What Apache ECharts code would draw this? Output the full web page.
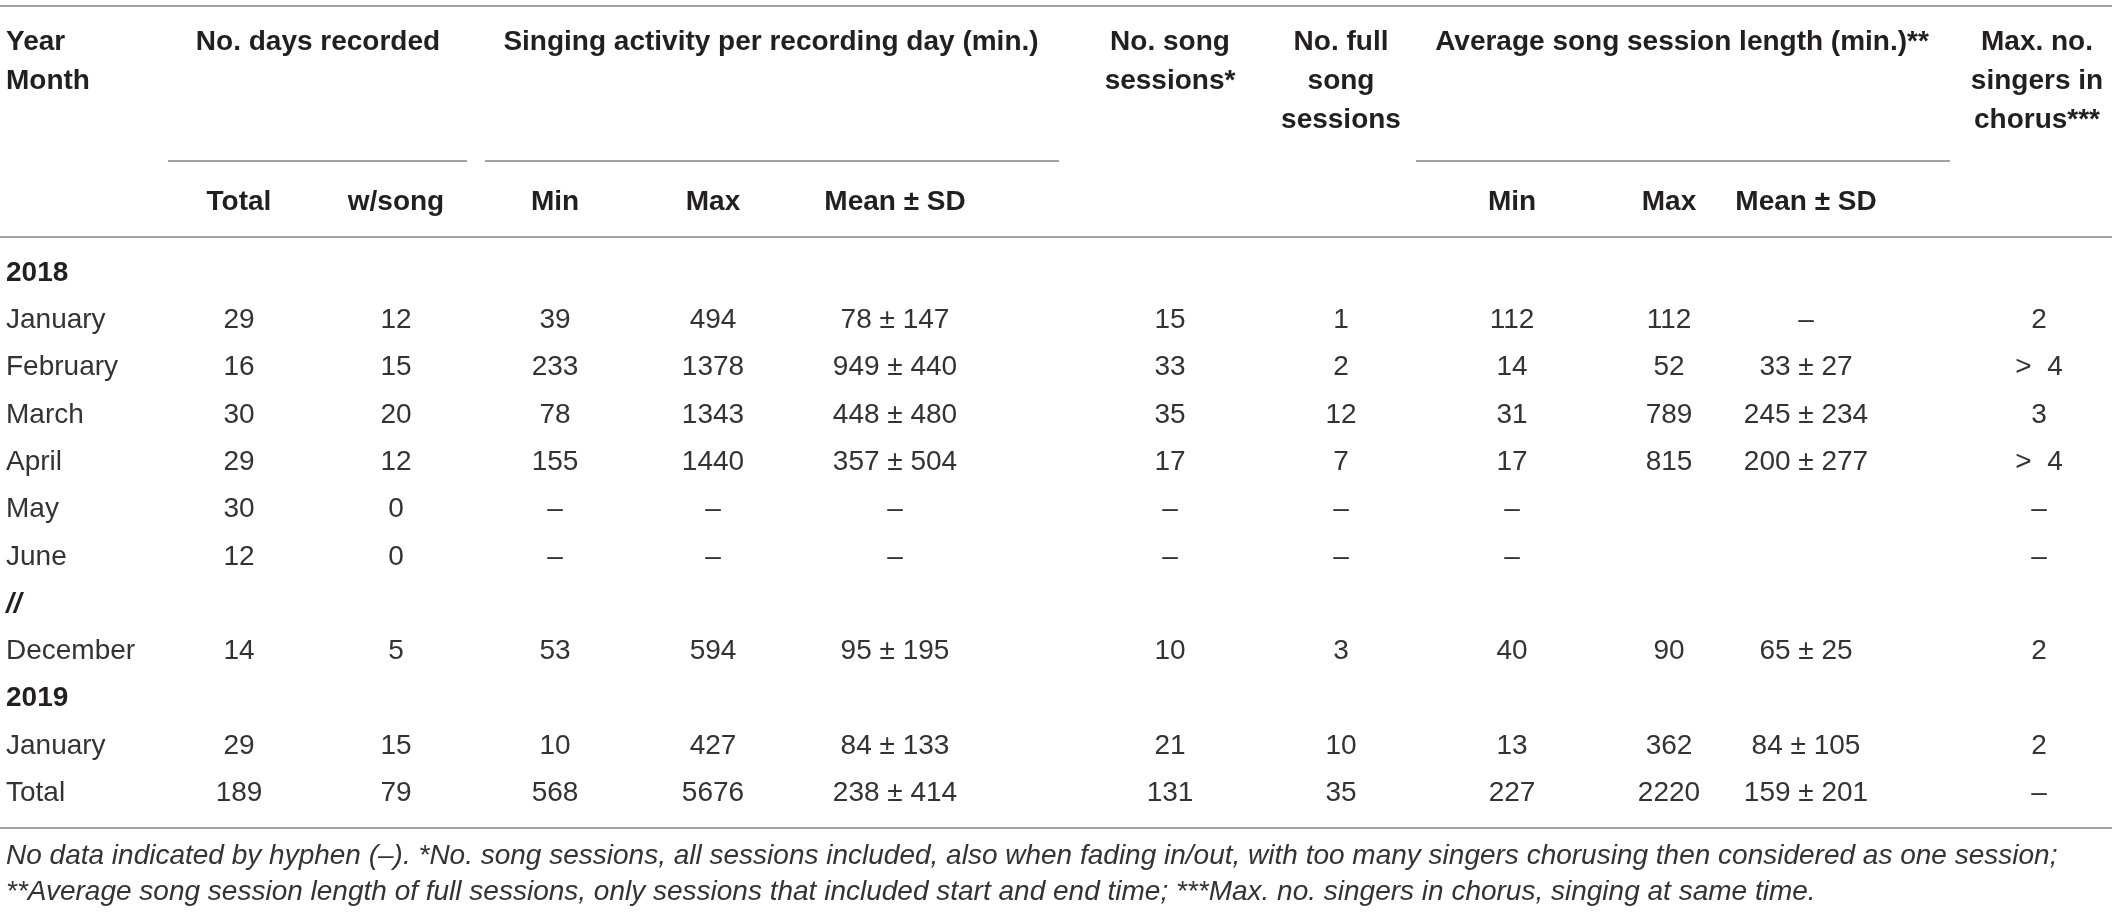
<!DOCTYPE html>
<html>
<head>
<meta charset="utf-8">
<title>Singing activity table</title>
<script src="https://cdn.jsdelivr.net/npm/echarts@6/dist/echarts.min.js"></script>
<style>
  html, body { margin: 0; padding: 0; background: #fff; }
  #main { width: 2118px; height: 915px; }
</style>
</head>
<body>
<div id="main"></div>
<script>
// table data, one array per column
const months = ['2018', 'January', 'February', 'March', 'April', 'May', 'June', '//', 'December', '2019', 'January', 'Total'];
const daysTotal = ['', '29', '16', '30', '29', '30', '12', '', '14', '', '29', '189'];
const daysWithSong = ['', '12', '15', '20', '12', '0', '0', '', '5', '', '15', '79'];
const activityMin = ['', '39', '233', '78', '155', '–', '–', '', '53', '', '10', '568'];
const activityMax = ['', '494', '1378', '1343', '1440', '–', '–', '', '594', '', '427', '5676'];
const activityMean = ['', '78 ± 147', '949 ± 440', '448 ± 480', '357 ± 504', '–', '–', '', '95 ± 195', '', '84 ± 133', '238 ± 414'];
const songSessions = ['', '15', '33', '35', '17', '–', '–', '', '10', '', '21', '131'];
const fullSessions = ['', '1', '2', '12', '7', '–', '–', '', '3', '', '10', '35'];
const lengthMin = ['', '112', '14', '31', '17', '–', '–', '', '40', '', '13', '227'];
const lengthMax = ['', '112', '52', '789', '815', '', '', '', '90', '', '362', '2220'];
const lengthMean = ['', '–', '33 ± 27', '245 ± 234', '200 ± 277', '', '', '', '65 ± 25', '', '84 ± 105', '159 ± 201'];
const maxSingers = ['', '2', '>  4', '3', '>  4', '–', '–', '', '2', '', '2', '–'];

const groupHeaders = ['Year\nMonth', 'No. days recorded', 'Singing activity per recording day (min.)',
  'No. song\nsessions*', 'No. full\nsong\nsessions', 'Average song session length (min.)**', 'Max. no.\nsingers in\nchorus***'];
const subHeaders = ['', 'Total', 'w/song', 'Min', 'Max', 'Mean ± SD', '', '', 'Min', 'Max', 'Mean ± SD', ''];
const footnotes = [
  'No data indicated by hyphen (–). *No. song sessions, all sessions included, also when fading in/out, with too many singers chorusing then considered as one session;',
  '**Average song session length of full sessions, only sessions that included start and end time; ***Max. no. singers in chorus, singing at same time.'
];

const columns = [months, daysTotal, daysWithSong, activityMin, activityMax, activityMean,
  songSessions, fullSessions, lengthMin, lengthMax, lengthMean, maxSingers];

// layout
const FONT = "'Liberation Sans', Arial, Helvetica, sans-serif";
const colX = [6, 239, 396, 555, 713, 895, 1170, 1341, 1512, 1669, 1806, 2039];
const groupX = [6, 318, 771, 1170, 1341, 1682, 2037];
const ruleColor = '#a3a3a3';
const headColor = '#231f20';
const bodyColor = '#333333';

const chart = echarts.init(document.getElementById('main'));

function cellSeries(values, c) {
  return {
    type: 'custom',
    coordinateSystem: 'cartesian2d',
    silent: true,
    animation: false,
    data: values.map((v, i) => [colX[c], i]),
    renderItem: function (params, api) {
      const text = values[params.dataIndex];
      if (!text) return null;
      const pt = api.coord([api.value(0), api.value(1)]);
      const bold = c === 0 && /^(\d{4}|\/\/)$/.test(text);
      return {
        type: 'text',
        x: pt[0],
        y: pt[1],
        style: {
          text: text,
          align: c === 0 ? 'left' : 'center',
          verticalAlign: 'middle',
          font: (text === '//' ? 'italic ' : '') + (bold ? 'bold ' : '') + '28px ' + FONT,
          fill: bold ? headColor : bodyColor
        }
      };
    }
  };
}

function rule(x1, x2, y) {
  return {
    type: 'line',
    shape: { x1: x1, y1: y, x2: x2, y2: y },
    style: { stroke: ruleColor, lineWidth: 2 },
    silent: true
  };
}

function headText(text, x, y, align) {
  return {
    type: 'text',
    x: x,
    y: y,
    silent: true,
    style: {
      text: text,
      align: align,
      verticalAlign: 'top',
      font: 'bold 28px ' + FONT,
      lineHeight: 39,
      fill: headColor
    }
  };
}

const graphics = [
  rule(0, 2112, 6),
  rule(168, 467, 161),
  rule(485, 1059, 161),
  rule(1416, 1950, 161),
  rule(0, 2112, 237),
  rule(0, 2112, 828)
];

groupHeaders.forEach((h, i) => {
  graphics.push(headText(h, groupX[i], 23, i === 0 ? 'left' : 'center'));
});
subHeaders.forEach((h, i) => {
  if (h) graphics.push(headText(h, colX[i], 183, 'center'));
});
footnotes.forEach((t, i) => {
  graphics.push({
    type: 'text',
    x: 6,
    y: 856 + i * 36,
    silent: true,
    style: {
      text: t,
      verticalAlign: 'middle',
      font: 'italic 28px ' + FONT,
      fill: bodyColor
    }
  });
});

const option = {
  backgroundColor: '#fff',
  animation: false,
  grid: { left: 0, right: 0, top: 249.35, height: 567.6 },
  xAxis: { type: 'value', min: 0, max: 2118, show: false },
  yAxis: { type: 'value', min: -0.5, max: 11.5, inverse: true, show: false },
  graphic: graphics,
  series: columns.map((col, c) => cellSeries(col, c))
};

chart.setOption(option);

window.addEventListener('resize', function () {
  chart.resize();
});
</script>
</body>
</html>
